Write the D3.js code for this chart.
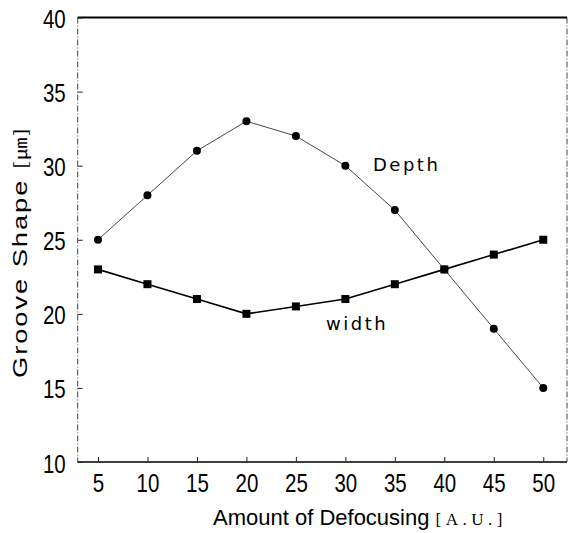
<!DOCTYPE html>
<html><head><meta charset="utf-8">
<script src="https://cdn.jsdelivr.net/npm/d3@7"></script>
<style>body{margin:0;background:#fff}svg{display:block}</style>
</head><body>
<script>
const xValues = [5,10,15,20,25,30,35,40,45,50];
const depthValues = [25,28,31,33,32,30,27,23,19,15];
const widthValues = [23,22,21,20,20.5,21,22,23,24,25];
const xTicks = [5,10,15,20,25,30,35,40,45,50];
const yTicks = [10,15,20,25,30,35,40];

const W = 575, H = 533;
const svg = d3.select("body").append("svg").attr("width", W).attr("height", H);
const x = d3.scaleLinear().domain([2.95, 52.4]).range([77.7, 567]);
const y = d3.scaleLinear().domain([10, 40]).range([462, 17.5]);
const font = "Liberation Sans, Arial, sans-serif";

// frame
svg.append("line").attr("x1",x.range()[0]).attr("x2",x.range()[0]).attr("y1",y(40)).attr("y2",y(10))
  .attr("stroke","#444").attr("stroke-width",1).attr("stroke-dasharray","6,2,1,2");
svg.append("line").attr("x1",x.range()[1]).attr("x2",x.range()[1]).attr("y1",y(40)).attr("y2",y(10))
  .attr("stroke","#444").attr("stroke-width",1).attr("stroke-dasharray","6,2,1,2");
svg.append("line").attr("x1",x.range()[0]).attr("x2",x.range()[1]).attr("y1",y(40)).attr("y2",y(40))
  .attr("stroke","#000").attr("stroke-width",1.8);
svg.append("line").attr("x1",x.range()[0]).attr("x2",x.range()[1]).attr("y1",y(10)).attr("y2",y(10))
  .attr("stroke","#000").attr("stroke-width",1.5);

const xAxis = svg.append("g").attr("transform", `translate(0,${y(10)})`)
  .call(d3.axisBottom(x).tickValues(xTicks).tickSizeInner(-5).tickSizeOuter(0).tickPadding(13));
xAxis.select(".domain").remove();
xAxis.selectAll("line").attr("stroke","#222");
xAxis.selectAll("text").attr("font-family", font).attr("font-size", 25).attr("fill","#000")
  .attr("transform","scale(0.82,1)").attr("dy","0.7em");

const yAxis = svg.append("g").attr("transform", `translate(${x.range()[0]},0)`)
  .call(d3.axisLeft(y).tickValues(yTicks).tickSizeInner(-5).tickSizeOuter(0).tickPadding(11));
yAxis.select(".domain").remove();
yAxis.selectAll("line").attr("stroke","#222");
yAxis.selectAll("text").attr("font-family", font).attr("font-size", 25).attr("fill","#000")
  .attr("transform","scale(0.82,1)").attr("x", -12/0.82).attr("dy","0.4em");

// lines
const lineGen = vals => d3.line().x((d,i)=>x(xValues[i])).y(d=>y(d))(vals);
svg.append("path").attr("d", lineGen(depthValues)).attr("fill","none").attr("stroke","#333").attr("stroke-width",0.9);
svg.append("path").attr("d", lineGen(widthValues)).attr("fill","none").attr("stroke","#000").attr("stroke-width",1.6);

svg.selectAll("circle.depth").data(depthValues).join("circle").attr("class","depth")
  .attr("cx",(d,i)=>x(xValues[i])).attr("cy",d=>y(d)).attr("r",4).attr("fill","#000");
svg.selectAll("rect.width").data(widthValues).join("rect").attr("class","width")
  .attr("x",(d,i)=>x(xValues[i])-4).attr("y",d=>y(d)-4).attr("width",8).attr("height",8).attr("fill","#000");

// labels
svg.append("text").attr("x",373).attr("y",171).attr("font-family","DejaVu Sans, sans-serif")
  .attr("font-size",18).attr("letter-spacing",2.5).text("Depth");
svg.append("text").attr("x",326).attr("y",330).attr("font-family","DejaVu Sans, sans-serif")
  .attr("font-size",18).attr("letter-spacing",2.5).text("width");

const xt = svg.append("text").attr("x",213).attr("y",525).attr("font-family",font).attr("font-size",22);
xt.append("tspan").text("Amount of Defocusing ");
xt.append("tspan").attr("font-family","Liberation Serif, serif").attr("font-size",17).attr("letter-spacing",4.5).text("[A.U.]");

const yt = svg.append("text").attr("transform","translate(27,378) rotate(-90) scale(1.3,1)")
  .attr("font-family",font).attr("font-size",21).attr("letter-spacing",1.5);
yt.append("tspan").text("Groove Shape ");
yt.append("tspan").attr("font-family","Noto Sans CJK JP, sans-serif").attr("font-size",17).text("[㎛]");
</script>
</body></html>
